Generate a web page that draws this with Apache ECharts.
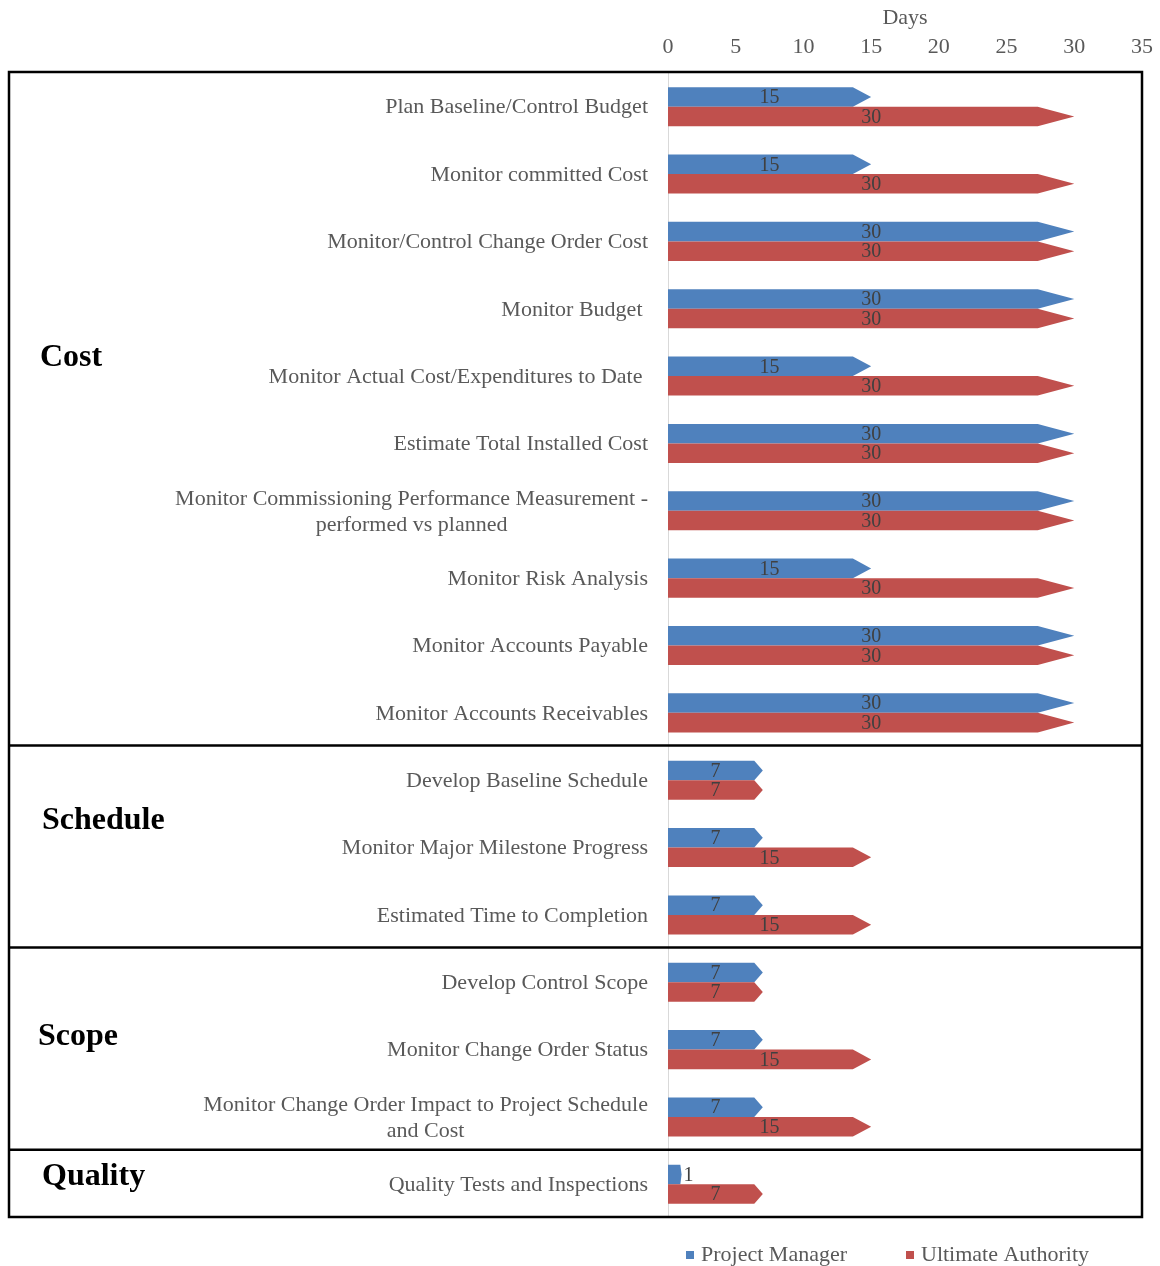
<!DOCTYPE html>
<html>
<head>
<meta charset="utf-8">
<script src="https://cdn.jsdelivr.net/npm/echarts@6/dist/echarts.min.js"></script>
<style>html,body{margin:0;padding:0;background:#fff;}#c{width:1160px;height:1266px;}</style>
</head>
<body>
<div id="c"></div>
<script>
var categories = [
  'Plan Baseline/Control Budget',
  'Monitor committed Cost',
  'Monitor/Control Change Order Cost',
  'Monitor Budget ',
  'Monitor Actual Cost/Expenditures to Date ',
  'Estimate Total Installed Cost',
  'Monitor Commissioning Performance Measurement -\nperformed vs planned',
  'Monitor Risk Analysis',
  'Monitor Accounts Payable',
  'Monitor Accounts Receivables',
  'Develop Baseline Schedule',
  'Monitor Major Milestone Progress',
  'Estimated Time to Completion',
  'Develop Control Scope',
  'Monitor Change Order Status',
  'Monitor Change Order Impact to Project Schedule\nand Cost',
  'Quality Tests and Inspections'
];
var projectManager   = [15, 15, 30, 30, 15, 30, 30, 15, 30, 30, 7, 7, 7, 7, 7, 7, 1];
var ultimateAuthority = [30, 30, 30, 30, 30, 30, 30, 30, 30, 30, 7, 15, 15, 7, 15, 15, 7];
var groupNames = ['Cost', 'Schedule', 'Scope', 'Quality'];
var groupEnds = [10, 13, 16];   // category counts where each group ends
var seriesNames = ['Project Manager', 'Ultimate Authority'];
var colors = ['#4F81BD', '#C0504D'];

(function () {
var FONT = '"Liberation Serif", "Times New Roman", serif';
var W = 1160, H = 1266;
var gridLeft = 668, gridRight = 18, gridTop = 72, gridBottom = 49;

function makeRender(which, color) {
  return function (params, api) {
    var v = api.value(0), ci = api.value(1);
    var p0 = api.coord([0, ci]);
    var p1 = api.coord([v, ci]);
    var bw = api.size([0, 1])[1];
    var h = bw * 0.29;
    var y0 = which === 0 ? p0[1] - h + 1 : p0[1] + 1;
    var y1 = y0 + h;
    var ym = (y0 + y1) / 2;
    var len = p1[0] - p0[0];
    var xb = p0[0] + len * 0.91;
    var small = len < 30;
    return {
      type: 'group',
      children: [
        { type: 'polygon',
          shape: { points: [[p0[0], y0], [xb, y0], [p1[0], ym], [xb, y1], [p0[0], y1]] },
          style: { fill: color } },
        { type: 'text',
          style: { text: String(v), x: small ? p1[0] + 2 : p0[0] + len / 2, y: ym + 1,
                   align: small ? 'left' : 'center', verticalAlign: 'middle',
                   fontFamily: FONT, fontSize: 20, fill: '#404040' } }
      ]
    };
  };
}

// Frame and group separators derived from the grid's category bands
var frameTop = gridTop, frameBottom = H - gridBottom;
var bandH = (frameBottom - frameTop) / categories.length;
var frameLeft = 9, frameRight = W - gridRight;
var graphics = [
  { type: 'rect', shape: { x: frameLeft, y: frameTop, width: frameRight - frameLeft, height: frameBottom - frameTop },
    style: { fill: 'none', stroke: '#000', lineWidth: 2.5 }, z: 100 }
];
groupEnds.forEach(function (n) {
  var yy = frameTop + bandH * n;
  graphics.push({ type: 'line', shape: { x1: frameLeft, y1: yy, x2: frameRight, y2: yy },
    style: { stroke: '#000', lineWidth: 2.5 }, z: 100 });
});
var groupLabelPos = [[40, 358], [42, 821], [38, 1037], [42, 1177]];
groupNames.forEach(function (g, i) {
  graphics.push({ type: 'text', x: groupLabelPos[i][0], y: groupLabelPos[i][1],
    style: { text: g, fontFamily: FONT, fontSize: 32, fontWeight: 'bold', fill: '#000',
             verticalAlign: 'middle' }, z: 100 });
});

var chart = echarts.init(document.getElementById('c'), null, { renderer: 'canvas' });
var option = {
  backgroundColor: '#fff',
  animation: false,
  grid: { left: gridLeft, right: gridRight, top: gridTop, bottom: gridBottom,
          containLabel: false, outerBoundsMode: 'none' },
  legend: {
    data: seriesNames.map(function (n, i) { return { name: n, itemStyle: { color: colors[i] } }; }),
    left: 686, top: 1244, padding: 0,
    icon: 'rect', itemWidth: 8, itemHeight: 8, itemGap: 59,
    textStyle: { fontFamily: FONT, fontSize: 22, color: '#595959', padding: [0, 0, 0, 2] }
  },
  xAxis: {
    type: 'value', position: 'top', min: 0, max: 35, interval: 5,
    name: 'Days', nameLocation: 'middle', nameGap: 43,
    nameTextStyle: { fontFamily: FONT, fontSize: 22, color: '#595959' },
    axisLine: { show: false }, axisTick: { show: false }, splitLine: { show: false },
    axisLabel: { fontFamily: FONT, fontSize: 22, color: '#595959', margin: 14 }
  },
  yAxis: {
    type: 'category', inverse: true, data: categories,
    axisLine: { show: true, lineStyle: { color: '#d9d9d9', width: 1 } },
    axisTick: { show: false }, splitLine: { show: false },
    axisLabel: {
      margin: 20, fontFamily: FONT, fontSize: 22, color: '#595959', lineHeight: 26,
      padding: [4, 0, 0, 0],
      formatter: function (val) {
        return val.split('\n').map(function (l) { return '{c|' + l + '}'; }).join('\n');
      },
      rich: { c: { align: 'center', fontFamily: FONT, fontSize: 22, color: '#595959', lineHeight: 26 } }
    }
  },
  graphic: { elements: graphics },
  series: [
    { name: seriesNames[0], type: 'custom', itemStyle: { color: colors[0] },
      encode: { x: 0, y: 1 }, renderItem: makeRender(0, colors[0]),
      data: projectManager.map(function (v, i) { return [v, i]; }) },
    { name: seriesNames[1], type: 'custom', itemStyle: { color: colors[1] },
      encode: { x: 0, y: 1 }, renderItem: makeRender(1, colors[1]),
      data: ultimateAuthority.map(function (v, i) { return [v, i]; }) }
  ]
};
chart.setOption(option);
})();
</script>
</body>
</html>
